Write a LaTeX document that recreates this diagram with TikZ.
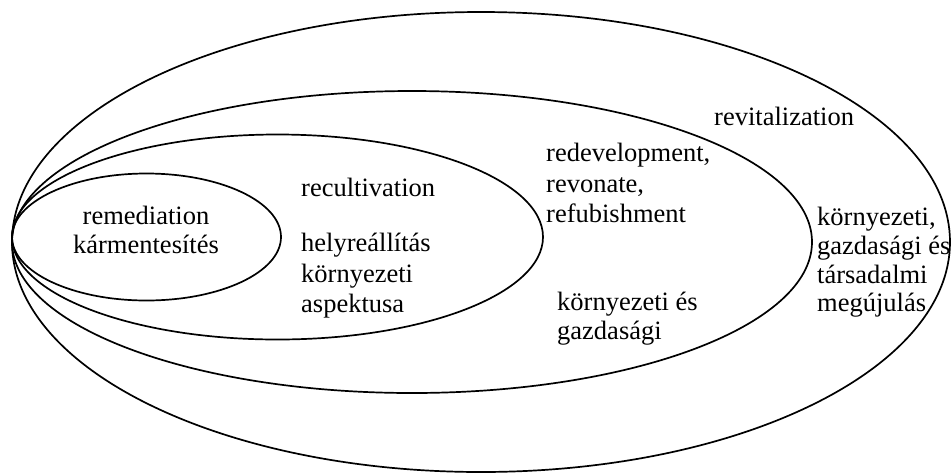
\documentclass[tikz,border=0pt]{standalone}
\usepackage{fontspec}
\setmainfont{Liberation Serif}
\begin{document}
\begin{tikzpicture}[x=1pt,y=-1pt,
  ring/.style={draw=black,line width=1.7pt},
  lbl/.style={inner sep=0pt,anchor=base west,font=\fontsize{26.5}{30}\selectfont},
  clbl/.style={inner sep=0pt,anchor=base,font=\fontsize{26.5}{30}\selectfont}]
\useasboundingbox (0,0) rectangle (951,475);
% ellipses (all touching at the left)
\draw[ring] (481,242) ellipse [x radius=469, y radius=230];
\draw[ring] (412,242) ellipse [x radius=400, y radius=151];
\draw[ring] (277.5,237) ellipse [x radius=265.5, y radius=102.5];
\draw[ring] (146.5,237) ellipse [x radius=134.5, y radius=63.5];
% innermost
\node[clbl] (rem1) at (146,224) {remediation};
\node[clbl] (rem2) at (146,253) {kármentesítés};
% third ring
\node[lbl] (rec1) at (301,196) {recultivation};
\node[lbl] (rec2) at (301,251) {helyreállítás};
\node[lbl] (rec3) at (301,282) {környezeti};
\node[lbl] (rec4) at (301,312) {aspektusa};
% second ring
\node[lbl] (red1) at (546,161) {redevelopment,};
\node[lbl] (red2) at (546,192) {revonate,};
\node[lbl] (red3) at (546,222) {refubishment};
\node[lbl] (red4) at (557,310) {környezeti és};
\node[lbl] (red5) at (557,339) {gazdasági};
% outer ring
\node[lbl] (rev1) at (714,125) {revitalization};
\node[lbl] (rev2) at (817,225) {környezeti,};
\node[lbl] (rev3) at (817,254) {gazdasági és};
\node[lbl] (rev4) at (817,283) {társadalmi};
\node[lbl] (rev5) at (817,311) {megújulás};
\end{tikzpicture}
\end{document}
